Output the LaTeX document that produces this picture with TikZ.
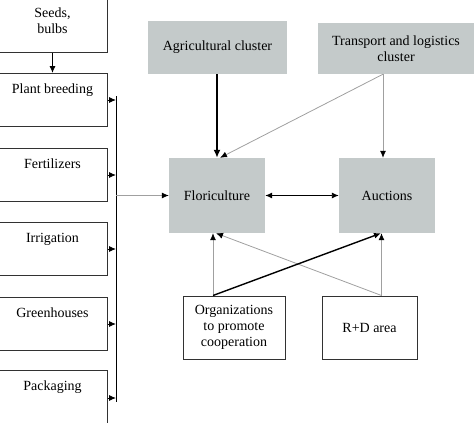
\documentclass[tikz,border=0pt]{standalone}
\usepackage{fontspec}
\setmainfont{Liberation Serif}
\newfontfamily\labelfont{Liberation Serif}
\usetikzlibrary{arrows.meta}
\definecolor{boxline}{RGB}{50,50,50}
\definecolor{clustergray}{RGB}{196,202,202}
\definecolor{linegray}{RGB}{160,160,160}
\tikzset{
  base/.style={font=\labelfont\fontsize{14}{16}\selectfont, inner sep=0pt},
  leftbox/.style={base, draw=boxline, line width=1pt, minimum width=109pt,
    anchor=north, text height=12pt, text depth=25pt, inner ysep=8pt},
  graybox/.style={base, align=center, fill=clustergray},
  whitebox/.style={base, align=center, draw=boxline, line width=1pt},
  tip/.style={-{Latex[length=7pt,width=6pt,color=black]}},
  blackarrow/.style={tip, draw=black, line width=0.9pt},
  thickarrow/.style={-{Latex[length=8pt,width=7pt]}, draw=black, line width=1.6pt},
  grayarrow/.style={tip, draw=linegray, line width=0.8pt},
  busline/.style={draw=black, line width=0.9pt}
}
\begin{document}
\begin{tikzpicture}[x=1pt,y=-1pt]
  \useasboundingbox (0,0) rectangle (474,423);
  \clip (0,0) rectangle (474,423);

  % supply chain boxes on the left
  \node[base, align=center, draw=boxline, line width=1pt, minimum width=109pt,
        minimum height=62pt] (seeds) at (52.5,21) {Seeds,\\bulbs};
  \node[leftbox] (breed) at (52.5,73) {Plant breeding};
  \node[leftbox] (fert) at (52.5,148) {Fertilizers};
  \node[leftbox] (irr) at (52.5,222) {Irrigation};
  \node[leftbox] (green) at (52.5,297) {Greenhouses};
  \node[leftbox, text depth=45pt] (pack) at (52.5,370) {Packaging};

  % collecting bus
  \coordinate (busTop) at (116,96);
  \coordinate (busBot) at (116,402);
  \draw[busline] (busTop) -- (busBot);

  % central boxes
  \node[graybox, minimum width=139pt, minimum height=53pt] (agri) at (217.5,47.5) {Agricultural cluster};
  \node[graybox, minimum width=156pt, minimum height=51pt] (trans) at (396,48.5) {Transport and logistics\\cluster};
  \node[graybox, minimum width=96pt, minimum height=75pt] (flori) at (217,195.5) {Floriculture};
  \node[graybox, minimum width=96pt, minimum height=75pt] (auct) at (387,195.5) {Auctions};
  \node[whitebox, minimum width=102pt, minimum height=63pt] (org) at (234,327.5) {Organizations\\to promote\\cooperation};
  \node[whitebox, minimum width=95pt, minimum height=63pt] (rd) at (369.5,327.5) {R+D area};

  % connectors
  \draw[blackarrow] (seeds.south) -- (breed.north);
  \foreach \b in {breed,fert,irr,green}
    \draw[blackarrow] (\b.east) -- (\b.east -| busTop);
  \draw[blackarrow] ([yshift=-28pt]pack.north east) -- ([yshift=-28pt]pack.north east -| busTop);
  \draw[grayarrow] (flori.west -| busTop) -- (flori.west);

  \draw[thickarrow] (agri.south -| flori.north) -- (flori.north);
  \coordinate (transOut) at ([xshift=-4pt]auct.north |- trans.south);
  \draw[grayarrow] (transOut) -- ([xshift=-4pt]auct.north);
  \draw[grayarrow] (transOut) -- ([xshift=3pt]flori.north);
  \draw[{Latex[length=7pt,width=6pt]}-{Latex[length=7pt,width=6pt]}, draw=black, line width=0.9pt]
    (flori.east) -- (auct.east -| auct.west);

  \coordinate (orgOut) at ([xshift=-21pt]org.north);
  \coordinate (rdOut) at ([xshift=12pt]rd.north);
  \draw[grayarrow] (orgOut) -- (orgOut |- flori.south);
  \draw[grayarrow] (rdOut) -- (rdOut |- auct.south);
  \draw[grayarrow] (rdOut) -- ([xshift=-1pt]flori.south);
  \draw[blackarrow, line width=1.4pt] (orgOut) -- ([xshift=-6pt]auct.south);
\end{tikzpicture}
\end{document}
